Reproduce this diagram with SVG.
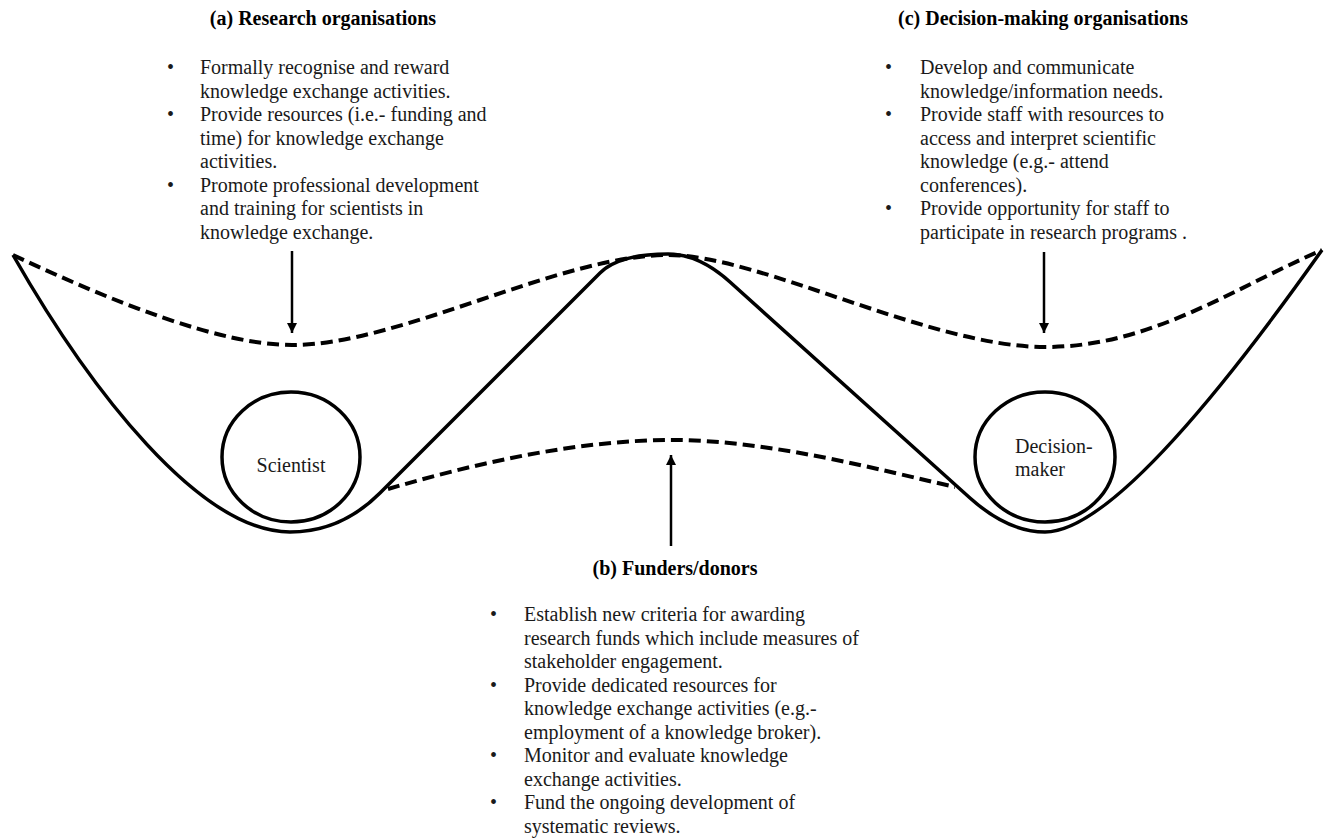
<svg xmlns="http://www.w3.org/2000/svg" width="1324" height="838" viewBox="0 0 1324 838">
<style>
text{font-family:"Liberation Serif","Times New Roman",serif;font-size:20px;fill:#1a1a1a}
.t{font-weight:bold;fill:#000;text-anchor:middle}
.solid{fill:none;stroke:#000;stroke-width:3.5;stroke-linejoin:round}
.dash{fill:none;stroke:#000;stroke-width:4;stroke-dasharray:12 6}
.node{fill:#fff;stroke:#000;stroke-width:3.5}
.arr{stroke:#000;stroke-width:2.5;fill:none}
</style>
<defs>
<marker id="ah" viewBox="0 0 10 10" refX="10" refY="5" markerWidth="4" markerHeight="5" markerUnits="strokeWidth" orient="auto">
<path d="M0,0 L10,5 L0,10 z" fill="#000"/>
</marker>
</defs>
<rect width="1324" height="838" fill="#fff"/>
<g id="landscape">
<path class="solid" d="M13,255 C90,390 200,532 290,532 Q341,532 380,493 L600,273 Q619,254 668,254 Q699,254 730,282 L970,498 Q1008,532 1045,532 C1110,532 1230,380 1322,250"/>
<path class="dash" d="M13,255 C113,302 220,345 292,345 C400,345 560,255 668,255 C760,255 930,347 1045,347 C1150,347 1230,290 1322,250"/>
<path class="dash" d="M388,489 C480,462 580,440 672,440 C770,440 880,470 955,487"/>
</g>
<g id="scientist">
<ellipse class="node" cx="291" cy="457" rx="69" ry="65"/>
<text x="291" y="472" text-anchor="middle">Scientist</text>
</g>
<g id="decision-maker">
<ellipse class="node" cx="1045" cy="457" rx="70" ry="65"/>
<text x="1015" y="453">Decision-</text>
<text x="1015" y="476">maker</text>
</g>
<g id="research-organisations">
<text class="t" x="323" y="25">(a) Research organisations</text>
<text x="167" y="74">•</text><text x="200" y="74">Formally recognise and reward</text>
<text x="200" y="97.5">knowledge exchange activities.</text>
<text x="167" y="121">•</text><text x="200" y="121">Provide resources (i.e.- funding and</text>
<text x="200" y="144.5">time) for knowledge exchange</text>
<text x="200" y="168">activities.</text>
<text x="167" y="191.5">•</text><text x="200" y="191.5">Promote professional development</text>
<text x="200" y="215">and training for scientists in</text>
<text x="200" y="238.5">knowledge exchange.</text>
</g>
<g id="decision-making-organisations">
<text class="t" x="1043" y="25">(c) Decision-making organisations</text>
<text x="885" y="74">•</text><text x="920" y="74">Develop and communicate</text>
<text x="920" y="97.5">knowledge/information needs.</text>
<text x="885" y="121">•</text><text x="920" y="121">Provide staff with resources to</text>
<text x="920" y="144.5">access and interpret scientific</text>
<text x="920" y="168">knowledge (e.g.- attend</text>
<text x="920" y="191.5">conferences).</text>
<text x="885" y="215">•</text><text x="920" y="215">Provide opportunity for staff to</text>
<text x="920" y="238.5">participate in research programs .</text>
</g>
<g id="funders-donors">
<text class="t" x="675" y="575">(b) Funders/donors</text>
<text x="490" y="621">•</text><text x="524" y="621">Establish new criteria for awarding</text>
<text x="524" y="644.5">research funds which include measures of</text>
<text x="524" y="668">stakeholder engagement.</text>
<text x="490" y="691.5">•</text><text x="524" y="691.5">Provide dedicated resources for</text>
<text x="524" y="715">knowledge exchange activities (e.g.-</text>
<text x="524" y="738.5">employment of a knowledge broker).</text>
<text x="490" y="762">•</text><text x="524" y="762">Monitor and evaluate knowledge</text>
<text x="524" y="785.5">exchange activities.</text>
<text x="490" y="809">•</text><text x="524" y="809">Fund the ongoing development of</text>
<text x="524" y="832.5">systematic reviews.</text>
</g>
<g id="connectors">
<line class="arr" x1="292" y1="251" x2="292" y2="333" marker-end="url(#ah)"/>
<line class="arr" x1="1044" y1="252" x2="1044" y2="333" marker-end="url(#ah)"/>
<line class="arr" x1="671" y1="546" x2="671" y2="455" marker-end="url(#ah)"/>
</g>
</svg>
